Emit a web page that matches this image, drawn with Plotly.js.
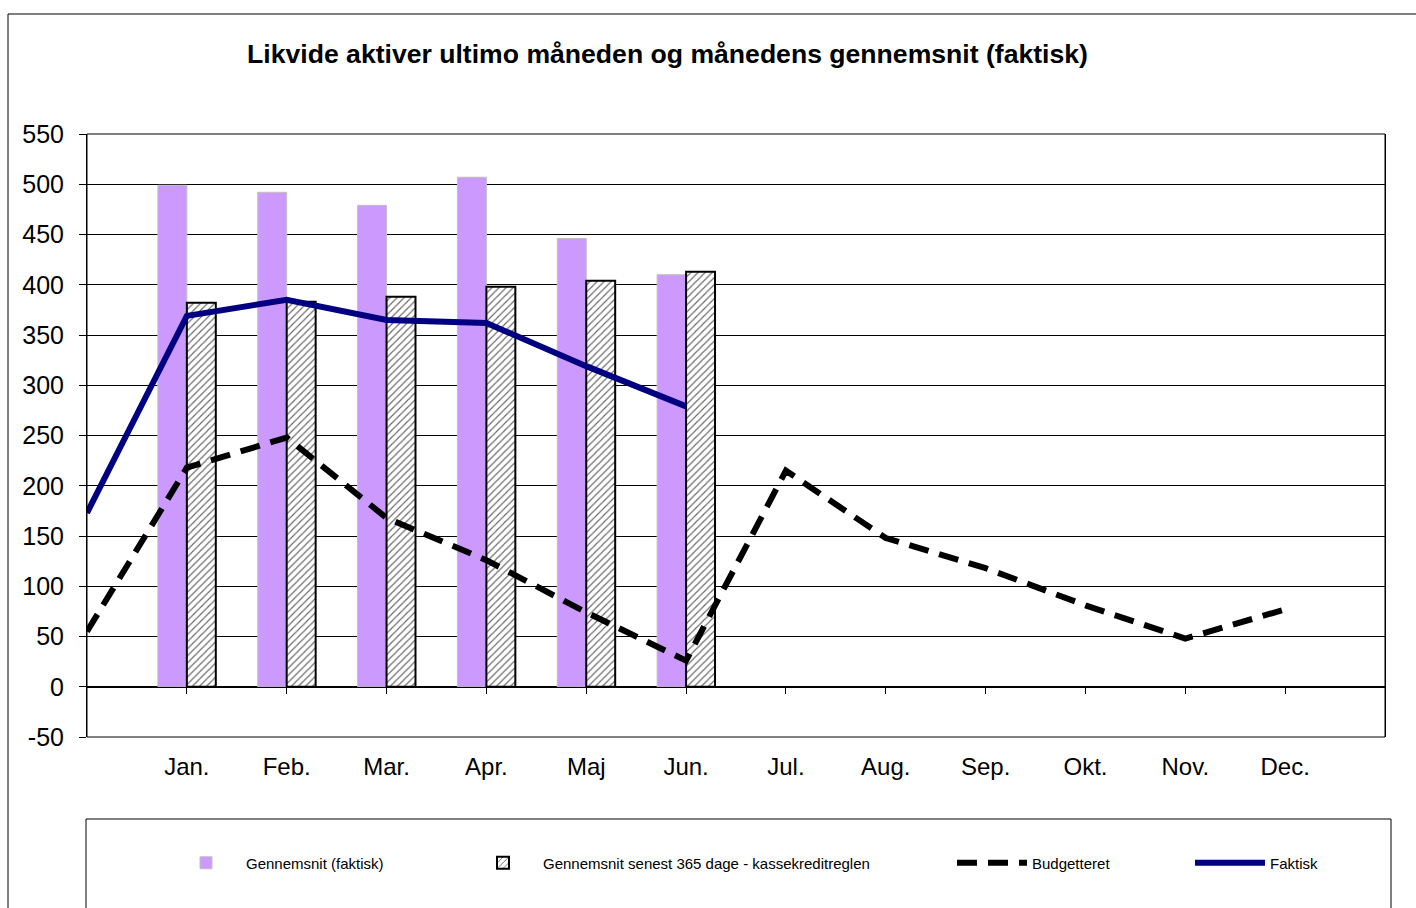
<!DOCTYPE html>
<html>
<head>
<meta charset="utf-8">
<script src="https://cdn.plot.ly/plotly-3.0.1.min.js"></script>
<style>html,body{margin:0;padding:0;background:#fff;}#chart{width:1416px;height:908px;}</style>
</head>
<body>
<div id="chart"></div>
<script>
const months = ["Jan.","Feb.","Mar.","Apr.","Maj","Jun.","Jul.","Aug.","Sep.","Okt.","Nov.","Dec."];
const monthPos = [1,2,3,4,5,6,7,8,9,10,11,12];
const yTickVals = [-50,0,50,100,150,200,250,300,350,400,450,500,550];
const yTickText = ["-50","0","50","100","150","200","250","300","350","400","450","500","550"];
const barPos = [1,2,3,4,5,6];
const linePosFaktisk = [0,1,2,3,4,5,6];
const linePosBudget = [0,1,2,3,4,5,6,7,8,9,10,11,12];
const gennemsnitFaktisk = [499,492,479,507,446,410];
const gennemsnit365 = [382,383,388,398,404,413];
const faktisk = [173,369,385,365,362,319,279];
const budgetteret = [55,218,248,168,126,74,26,215,148,118,81,48,77];

const font = "Liberation Sans, Arial, sans-serif";
const L = 87, R = 1385, T = 134, B = 737;
const px2x = p => (p - L) / (R - L);
const py2y = p => (B - p) / (B - T);

const traces = [
  {type:"bar", name:"Gennemsnit (faktisk)", x:barPos, y:gennemsnitFaktisk,
   marker:{color:"#CC99FF", line:{color:"#C0C0C0", width:1}}, legend:"legend"},
  {type:"bar", name:"Gennemsnit senest 365 dage - kassekreditreglen", x:barPos, y:gennemsnit365,
   marker:{color:"white", line:{color:"black", width:2},
           pattern:{shape:"/", fgcolor:"#666666", bgcolor:"white", size:5, solidity:0.22}}, legend:"legend2"},
  {type:"scatter", mode:"lines", name:"Budgetteret", x:linePosBudget, y:budgetteret,
   line:{color:"black", width:6, dash:"20px,11px"}, legend:"legend3"},
  {type:"scatter", mode:"lines", name:"Faktisk", x:linePosFaktisk, y:faktisk,
   line:{color:"#000080", width:6}, legend:"legend4"}
];

const legBase = {orientation:"h", xanchor:"left", yanchor:"middle", bgcolor:"rgba(0,0,0,0)",
  font:{family:font, size:15, color:"black"}, itemwidth:70, borderwidth:0};
const legY = py2y(863);

const layout = {
  width:1416, height:908,
  paper_bgcolor:"white", plot_bgcolor:"white",
  margin:{l:L, r:1416-R, t:T, b:908-B},
  title:{text:"<b>Likvide aktiver ultimo måneden og månedens gennemsnit (faktisk)</b>",
         font:{family:font, size:26.6, color:"black"},
         xref:"container", yref:"container", x:667.5/1416, y:1-54/908, xanchor:"center", yanchor:"middle"},
  barmode:"group", bargap:0.42, bargroupgap:0,
  xaxis:{range:[0,13], tickvals:monthPos, ticktext:months, anchor:"free", position:50/600,
         showgrid:false, zeroline:false, showline:true, linecolor:"black", linewidth:1,
         ticks:"outside", ticklen:6, tickcolor:"black", tickwidth:1, ticklabelstandoff:52,
         tickfont:{family:font, size:24, color:"black"}},
  yaxis:{range:[-50,550], tickvals:yTickVals, ticktext:yTickText, showgrid:true, gridcolor:"black", gridwidth:1,
         zeroline:false, showline:true, mirror:true, linecolor:"black", linewidth:1,
         ticks:"outside", ticklen:7, tickcolor:"black", ticklabelstandoff:10,
         tickfont:{family:font, size:25, color:"black"}},
  legend: Object.assign({}, legBase, {x:px2x(166), y:legY}),
  legend2: Object.assign({}, legBase, {x:px2x(463), y:legY}),
  legend3: Object.assign({}, legBase, {x:px2x(952), y:legY}),
  legend4: Object.assign({}, legBase, {x:px2x(1190), y:legY}),
  shapes:[
    {type:"rect", xref:"paper", yref:"paper", x0:0, x1:1, y0:0, y1:1, line:{color:"black", width:1}},
    {type:"rect", xref:"paper", yref:"paper", x0:px2x(86), x1:px2x(1391), y0:py2y(930), y1:py2y(819), line:{color:"black", width:1}},
    {type:"rect", xref:"paper", yref:"paper", x0:px2x(8), x1:px2x(1440), y0:py2y(940), y1:py2y(14), line:{color:"black", width:1}}
  ],
  showlegend:true
};

Plotly.newPlot("chart", traces, layout, {displayModeBar:false, staticPlot:true});
</script>
</body>
</html>
